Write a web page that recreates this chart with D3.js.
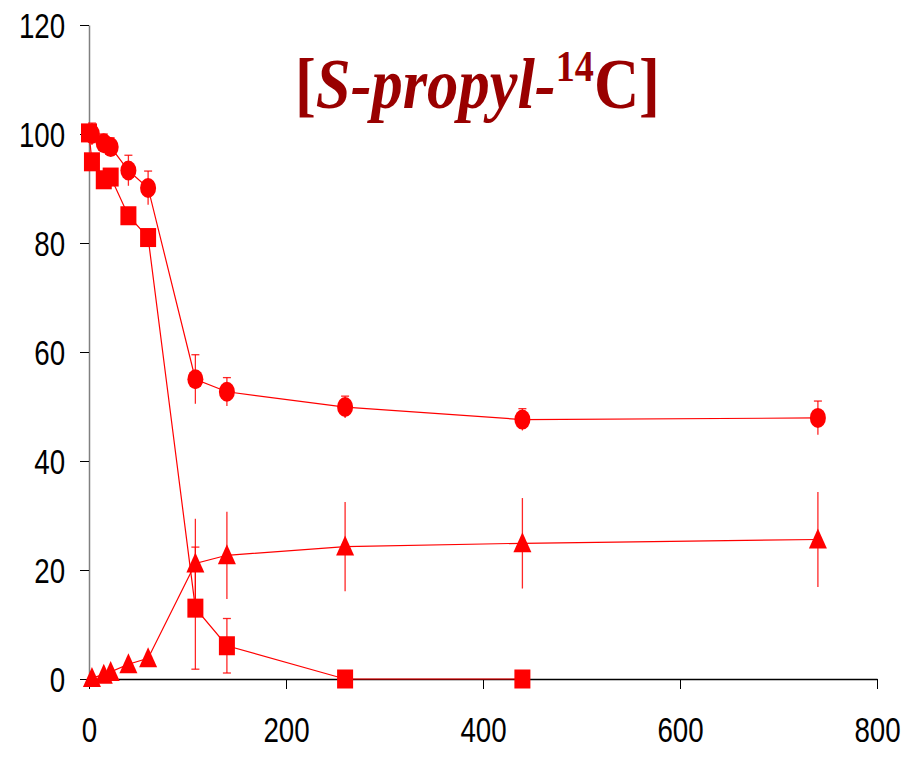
<!DOCTYPE html>
<html>
<head>
<meta charset="utf-8">
<style>
  body { margin: 0; background: #fff; }
  svg { display: block; }
</style>
</head>
<body>
<div id="container"></div>
<script src="https://d3js.org/d3.v7.min.js"></script>
<script>
// Chart values
const circleTime = [3, 15, 22, 40, 60, 108, 140, 260, 440, 740];
const circleVals = [100, 98.3, 97.6, 93.3, 90.1, 55.0, 52.7, 49.9, 47.6, 47.9];
const circleErr  = [2, 1.7, 1.7, 2.8, 3.1, 4.5, 2.6, 2, 2, 3.1];

const squareTime = [0, 3, 15, 22, 40, 60, 108, 140, 260, 440];
const squareVals = [100.2, 94.9, 91.6, 92.1, 85.0, 81.0, 13.0, 6.1, 0, 0];
const squareErr  = [0, 0, 0, 0, 0, 0, 11.2, 5, 0, 0];

const triangleTime = [3, 15, 22, 40, 60, 108, 140, 260, 440, 740];
const triangleVals = [0.2, 0.8, 1.3, 2.7, 3.8, 21.2, 22.7, 24.3, 24.9, 25.6];
const triangleErr  = [0, 0, 0, 0, 0, 8.2, 8, 8.2, 8.3, 8.7];

const xTicks = [0, 200, 400, 600, 800];
const yTicks = [0, 20, 40, 60, 80, 100, 120];

const width = 914;
const height = 764;
const red = "#ff0000";

const x = d3.scaleLinear().domain([0, 800]).range([89, 877]);
const y = d3.scaleLinear().domain([0, 120]).range([679, 25]);

const svg = d3.select("#container").append("svg")
    .attr("width", width)
    .attr("height", height);

// y axis: gray spine, black ticks
svg.append("g")
    .attr("transform", "translate(89,0)")
    .call(d3.axisLeft(y).tickValues(yTicks).tickSize(9).tickSizeOuter(0).tickFormat(d3.format("d")))
    .call(g => g.select(".domain").attr("stroke", "#808080").attr("stroke-width", 1.5))
    .call(g => g.selectAll(".tick line").attr("stroke", "#000"))
    .call(g => g.selectAll(".tick text")
        .attr("x", -31)
        .attr("dy", "0.35em")
        .attr("transform", "scale(0.77,1)")
        .attr("fill", "#000")
        .style("font-family", "'Liberation Sans', Arial, sans-serif")
        .style("font-size", "36px"));

// x axis
svg.append("g")
    .attr("transform", "translate(0,679)")
    .call(d3.axisBottom(x).tickValues(xTicks).tickSize(10).tickSizeOuter(0).tickFormat(d3.format("d")))
    .call(g => g.select(".domain").attr("stroke", "#000").attr("stroke-width", 1.5))
    .call(g => g.selectAll(".tick line").attr("stroke", "#000"))
    .call(g => g.selectAll(".tick text")
        .attr("y", 63)
        .attr("dy", 0)
        .attr("transform", "scale(0.77,1)")
        .attr("fill", "#000")
        .style("font-family", "'Liberation Sans', Arial, sans-serif")
        .style("font-size", "36px"));

function makeSeries(time, vals, err) {
  return time.map((t, i) => ({t: t, v: vals[i], e: err[i]}));
}
const circles = makeSeries(circleTime, circleVals, circleErr);
const squares = makeSeries(squareTime, squareVals, squareErr);
const triangles = makeSeries(triangleTime, triangleVals, triangleErr);

const line = d3.line().x(d => x(d.t)).y(d => y(d.v));

[circles, squares, triangles].forEach(s => {
  svg.append("path")
      .attr("fill", "none")
      .attr("stroke", red)
      .attr("stroke-width", 1.2)
      .attr("d", line(s));
});

// error bars
function errorBars(data, capTop, capBottom) {
  const g = svg.append("g").attr("stroke", red).attr("stroke-width", 1.3).attr("stroke-opacity", 0.85);
  data.filter(d => d.e > 0).forEach(d => {
    const cx = x(d.t);
    g.append("line").attr("x1", cx).attr("x2", cx).attr("y1", y(d.v + d.e)).attr("y2", y(d.v - d.e));
    if (capTop) g.append("line").attr("x1", cx - 4).attr("x2", cx + 4).attr("y1", y(d.v + d.e)).attr("y2", y(d.v + d.e));
    if (capBottom) g.append("line").attr("x1", cx - 4).attr("x2", cx + 4).attr("y1", y(d.v - d.e)).attr("y2", y(d.v - d.e));
  });
}
errorBars(circles, true, false);
errorBars(squares, true, true);
errorBars(triangles, false, false);

// markers
svg.append("g").selectAll("ellipse").data(circles).join("ellipse")
    .attr("cx", d => x(d.t)).attr("cy", d => y(d.v))
    .attr("rx", 8).attr("ry", 10)
    .attr("fill", red);

svg.append("g").selectAll("rect").data(squares).join("rect")
    .attr("x", d => x(d.t) - 8).attr("y", d => y(d.v) - 9.5)
    .attr("width", 16).attr("height", 19)
    .attr("fill", red);

svg.append("g").selectAll("path").data(triangles).join("path")
    .attr("transform", d => `translate(${x(d.t)},${y(d.v)})`)
    .attr("d", "M0,-11L9,9L-9,9Z")
    .attr("fill", red);

// title
const title = svg.append("text")
    .attr("fill", "#990000")
    .attr("font-family", "'Liberation Serif', 'Times New Roman', serif")
    .attr("font-weight", "bold")
    .attr("font-size", 72);
title.append("tspan").text("[");
title.append("tspan").attr("font-style", "italic").text("S-propyl-");
title.append("tspan").attr("font-size", 44).attr("dy", -27).text("14");
title.append("tspan").attr("dy", 27).text("C]");
const tw = title.node().getComputedTextLength();
title.attr("transform", `translate(295,108) scale(${365 / tw},1)`);
</script>
</body>
</html>
